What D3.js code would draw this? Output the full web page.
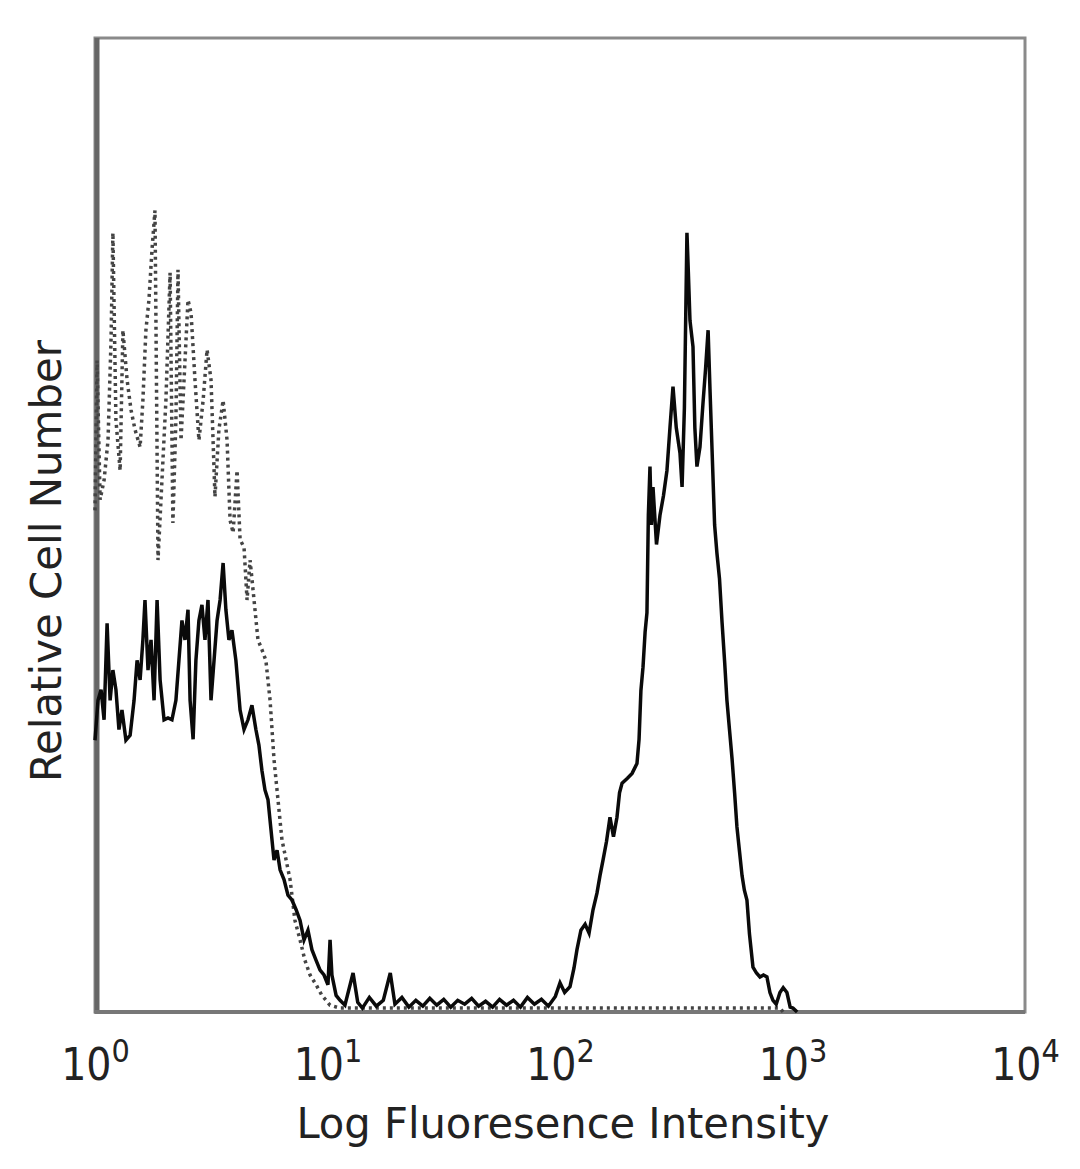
<!DOCTYPE html>
<html><head><meta charset="utf-8">
<script src="https://cdn.jsdelivr.net/npm/d3@7"></script>
<style>body{margin:0;background:#fff}svg{display:block}</style>
</head><body><svg id="c" width="1080" height="1169"></svg>
<script>
// ---- data ----
const tickExponents = [0, 1, 2, 3, 4];
const xTitle = "Log Fluoresence Intensity";
const yTitle = "Relative Cell Number";
// stained sample (solid): [log10 intensity, relative count]
const stainedSeries = [
[0.000,27.9],[0.013,32.0],[0.026,33.1],[0.039,30.0],[0.052,39.9],[0.065,32.0],[0.077,35.1],[0.090,33.1],[0.103,29.0],[0.116,31.0],
[0.133,27.9],[0.151,28.4],[0.168,32.0],[0.181,36.1],[0.194,34.1],[0.206,38.2],[0.215,42.3],[0.228,35.1],[0.241,38.2],[0.254,32.0],
[0.267,42.3],[0.280,34.1],[0.297,30.0],[0.314,30.2],[0.331,30.0],[0.348,32.0],[0.361,36.1],[0.374,40.2],[0.387,38.2],[0.400,41.3],
[0.409,32.0],[0.422,28.0],[0.434,36.1],[0.447,40.2],[0.460,41.8],[0.473,38.2],[0.486,42.3],[0.499,32.0],[0.512,36.1],[0.525,40.2],
[0.538,42.3],[0.551,46.1],[0.563,41.3],[0.576,38.2],[0.589,39.2],[0.606,36.1],[0.624,31.0],[0.641,29.0],[0.658,30.0],[0.675,31.5],
[0.692,29.0],[0.705,27.4],[0.718,24.8],[0.731,22.8],[0.744,21.8],[0.757,18.7],[0.770,15.6],[0.783,16.6],[0.796,14.6],[0.813,13.6],
[0.830,12.0],[0.847,11.5],[0.865,10.5],[0.882,9.4],[0.899,7.4],[0.916,8.4],[0.933,6.4],[0.951,5.3],[0.968,4.3],[0.985,3.8],
[1.002,2.8],[1.011,7.4],[1.019,3.8],[1.037,1.7],[1.054,1.2],[1.075,0.7],[1.11,4.0],[1.13,1.0],[1.15,0.4],[1.18,1.5],[1.21,0.6],
[1.24,1.2],[1.27,4.0],[1.29,0.8],[1.32,1.5],[1.35,0.5],[1.38,1.2],[1.41,0.6],[1.44,1.4],[1.47,0.7],[1.50,1.3],[1.53,0.5],[1.56,1.2],
[1.59,0.8],[1.62,1.4],[1.65,0.6],[1.68,1.1],[1.71,0.5],[1.74,1.3],[1.77,0.7],[1.80,1.2],[1.83,0.5],[1.86,1.5],[1.89,0.8],[1.92,1.3],
[1.95,0.6],[1.98,1.6],[2.000,3.0],[2.020,2.0],[2.043,2.6],[2.060,4.5],[2.073,6.4],[2.090,8.4],[2.108,9.0],[2.125,8.1],[2.142,10.5],
[2.159,12.2],[2.172,14.0],[2.185,15.6],[2.200,17.5],[2.215,20.0],[2.230,18.0],[2.245,20.0],[2.256,22.5],[2.267,23.5],[2.290,24.0],
[2.310,24.5],[2.331,25.5],[2.340,28.0],[2.348,33.0],[2.357,35.4],[2.366,39.0],[2.374,41.0],[2.380,51.0],[2.387,56.0],[2.393,50.0],
[2.400,53.9],[2.415,48.0],[2.430,51.0],[2.445,53.0],[2.460,55.6],[2.473,60.0],[2.486,64.2],[2.500,60.0],[2.516,57.4],[2.525,53.9],
[2.535,62.0],[2.546,80.0],[2.552,76.0],[2.559,71.0],[2.572,68.3],[2.580,60.0],[2.589,56.0],[2.602,58.0],[2.615,62.5],[2.626,66.0],
[2.637,70.0],[2.645,64.0],[2.654,57.7],[2.665,50.0],[2.675,47.1],[2.686,44.5],[2.697,40.0],[2.708,36.0],[2.718,32.0],[2.729,29.0],
[2.740,26.0],[2.751,22.5],[2.761,19.0],[2.772,16.5],[2.783,14.0],[2.793,12.5],[2.804,11.5],[2.815,8.0],[2.830,4.6],[2.845,4.0],
[2.860,3.6],[2.875,3.8],[2.890,3.6],[2.903,2.0],[2.916,1.2],[2.930,0.8],[2.946,2.0],[2.960,2.5],[2.976,2.0],[2.990,0.5],[3.002,0.4],[3.020,0.0]
];
// isotype control (dotted): [log10 intensity, relative count]
const isotypeSeries = [
[0.000,51.5],[0.009,66.9],[0.022,52.6],[0.039,54.6],[0.056,58.7],[0.069,69.0],[0.077,80.0],[0.090,60.8],[0.108,55.6],[0.120,70.0],
[0.138,64.9],[0.155,61.8],[0.172,59.8],[0.194,58.0],[0.206,62.8],[0.219,70.0],[0.232,73.1],[0.245,78.2],[0.258,82.3],[0.271,46.4],
[0.288,54.6],[0.305,62.8],[0.323,75.9],[0.335,50.2],[0.348,60.8],[0.357,76.2],[0.370,58.7],[0.383,64.9],[0.400,73.1],[0.413,71.8],
[0.430,64.9],[0.447,58.7],[0.465,62.8],[0.482,68.0],[0.499,64.9],[0.516,52.9],[0.533,59.8],[0.551,62.8],[0.568,58.7],[0.581,50.5],
[0.594,49.2],[0.611,55.6],[0.624,48.5],[0.641,47.7],[0.654,42.3],[0.667,46.4],[0.684,42.3],[0.701,38.2],[0.718,37.2],[0.735,36.1],
[0.753,32.0],[0.770,25.9],[0.787,21.8],[0.804,17.7],[0.822,15.6],[0.839,13.6],[0.860,9.4],[0.882,7.4],[0.903,5.3],[0.925,3.8],
[0.951,2.8],[0.976,1.7],[1.011,0.7],[1.054,0.4],[1.50,0.4],[2.00,0.4],[2.50,0.4],[2.946,0.4],[2.960,0.0]
];

// ---- layout ----
const plot = {left: 95, right: 1025, top: 38, bottom: 1012};
const svg = d3.select("#c");
const font = "'Liberation Sans Narrow','DejaVu Sans Condensed','DejaVu Sans',sans-serif";

const x = d3.scaleLog().domain([1, 1e4]).range([plot.left, plot.right]);
const y = d3.scaleLinear().domain([0, 100]).range([plot.bottom, plot.top]);

// frame
svg.append("rect")
  .attr("x", plot.left).attr("y", plot.top)
  .attr("width", plot.right - plot.left).attr("height", plot.bottom - plot.top)
  .attr("fill", "none").attr("stroke", "#8a8a8a").attr("stroke-width", 3);
// left axis line (thicker)
svg.append("line")
  .attr("x1", plot.left + 2).attr("x2", plot.left + 2)
  .attr("y1", plot.top).attr("y2", plot.bottom + 2)
  .attr("stroke", "#666").attr("stroke-width", 5);
// bottom axis line
svg.append("line")
  .attr("x1", plot.left).attr("x2", plot.right)
  .attr("y1", plot.bottom).attr("y2", plot.bottom)
  .attr("stroke", "#777").attr("stroke-width", 4);

const line = d3.line()
  .x(d => x(Math.pow(10, d[0])))
  .y(d => y(d[1]));

// isotype dotted
svg.append("path")
  .datum(isotypeSeries)
  .attr("d", line)
  .attr("fill", "none")
  .attr("stroke", "#444")
  .attr("stroke-width", 3.5)
  .attr("stroke-dasharray", "3,4");

// stained solid
svg.append("path")
  .datum(stainedSeries)
  .attr("d", line)
  .attr("fill", "none")
  .attr("stroke", "#0a0a0a")
  .attr("stroke-width", 3.5)
  .attr("stroke-linejoin", "miter");

// x axis (no tick marks), custom superscript labels
const xAxis = d3.axisBottom(x)
  .tickValues(tickExponents.map(e => Math.pow(10, e)))
  .tickSize(0)
  .tickFormat("");
const gx = svg.append("g")
  .attr("transform", `translate(0,${plot.bottom})`)
  .call(xAxis);
gx.select(".domain").remove();
gx.selectAll(".tick").each(function(d, i) {
  const t = d3.select(this).append("text")
    .attr("y", 68)
    .attr("text-anchor", "middle")
    .attr("fill", "#222")
    .style("font-family", font)
    .style("font-size", "44px");
  t.append("tspan").text("10");
  t.append("tspan").attr("dy", -18).style("font-size", "32px").text(String(tickExponents[i]));
});

// titles
svg.append("text")
  .attr("x", 563).attr("y", 1138)
  .attr("text-anchor", "middle")
  .attr("fill", "#222")
  .attr("textLength", 533).attr("lengthAdjust", "spacingAndGlyphs")
  .style("font-family", font).style("font-size", "42px")
  .text(xTitle);

svg.append("text")
  .attr("transform", `translate(61,561) rotate(-90)`)
  .attr("text-anchor", "middle")
  .attr("fill", "#222")
  .attr("textLength", 442).attr("lengthAdjust", "spacingAndGlyphs")
  .style("font-family", font).style("font-size", "42px")
  .text(yTitle);
</script>
</body></html>
